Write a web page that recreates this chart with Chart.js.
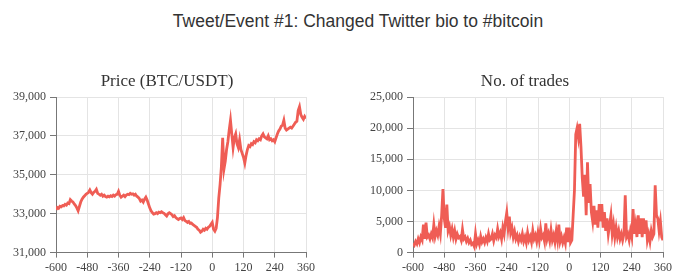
<!DOCTYPE html>
<html>
<head>
<meta charset="utf-8">
<script src="https://cdn.jsdelivr.net/npm/chart.js@4.4.1/dist/chart.umd.min.js"></script>
<style>
  body { margin: 0; background: #fff; }
  #page { position: relative; width: 687px; height: 280px; overflow: hidden; }
  #title { position: absolute; left: 0; top: 11px; width: 716px; text-align: center;
    font-family: "Liberation Sans", Arial, sans-serif; font-size: 17.5px; color: #333; }
  .box { position: absolute; top: 60px; width: 340px; height: 220px; }
  .sub { position: absolute; top: 71px; width: 200px; text-align: center;
    font-family: "Liberation Serif", "Times New Roman", serif; font-size: 17px; color: #333; }
</style>
</head>
<body>
<div id="page">
  <div id="title">Tweet/Event #1: Changed Twitter bio to #bitcoin</div>
  <div class="box" style="left:0px"><canvas id="priceChart" width="340" height="220"></canvas></div>
  <div class="box" style="left:357px"><canvas id="tradesChart" width="340" height="220"></canvas></div>
  <div class="sub" style="left:67px">Price (BTC/USDT)</div>
  <div class="sub" style="left:425px">No. of trades</div>
</div>
<script>
// minutes relative to the tweet, 5 minute steps
const startMin = -600
const stepMin = 5

const price = [
  33200, 33320, 33280, 33380, 33350, 33420, 33400, 33480, 33440, 33550, 33520, 33720,
  33650, 33600, 33500, 33420, 33300, 33150, 33380, 33600, 33750, 33850, 33920, 34000,
  34050, 34100, 34220, 34080, 34000, 34100, 34150, 34250, 34050, 34000, 33950, 34000,
  33900, 33950, 33880, 33850, 33900, 33870, 33920, 33880, 33950, 33900, 33980, 34000,
  34150, 33950, 33850, 33900, 33950, 33880, 33960, 34000, 33980, 34050, 34000, 34020,
  33950, 34000, 33900, 33850, 33780, 33650, 33700, 33600, 33750, 33850, 33700, 33500,
  33300, 33150, 33050, 32980, 33000, 33050, 33000, 33080, 33050, 33100, 33050, 33020,
  32950, 32880, 33000, 33050, 33000, 32950, 32850, 32900, 32800, 32750, 32700, 32750,
  32780, 32700, 32800, 32650, 32600, 32550, 32600, 32500, 32520, 32450, 32400, 32350,
  32300, 32200, 32150, 32050, 32100, 32200, 32150, 32250, 32200, 32300, 32350, 32450,
  32550, 32200, 32100, 32250, 32800, 33800, 34500, 35400, 36900, 35300, 35700, 36300,
  36700, 37300, 37800, 37100, 36400, 36900, 37100, 36600, 36400, 36800, 36300, 36100,
  35900, 35600, 36000, 36300, 36500, 36450, 36600, 36550, 36700, 36650, 36800, 36750,
  36850, 36800, 37000, 37100, 36950, 36900, 36850, 37000, 36800, 36850, 36750, 36800,
  36700, 36900, 37100, 37250, 37350, 37500, 37550, 37800, 37400, 37300, 37350, 37400,
  37450, 37400, 37500, 37600, 37700, 37750, 38300, 38500, 38100, 37950, 37850, 38000,
  37900
]

const trades = [
  1500, 1200, 1800, 1400, 2200, 1600, 2500, 2000, 4500, 2200, 4800, 2500,
  2800, 2200, 3000, 2400, 4500, 2600, 3500, 2800, 4200, 3000, 6000, 10200,
  5500, 4000, 7700, 3500, 4200, 2800, 3800, 2500, 3500, 2200, 3000, 2400,
  2600, 2000, 3700, 2200, 2500, 1800, 2300, 1600, 2000, 1300, 1500, 1000,
  3000, 1400, 2000, 1300, 2600, 1700, 2200, 1600, 2400, 1800, 3000, 2000,
  2200, 3000, 1900, 2800, 2400, 3800, 2600, 3200, 2200, 4000, 3000, 5000,
  6400, 4000, 5800, 3200, 4000, 2500, 3400, 2200, 2800, 1800, 2600, 2000,
  3000, 1800, 2500, 1600, 3200, 2000, 2600, 1700, 3500, 2200, 2800, 1800,
  3200, 2000, 3800, 2400, 2800, 1800, 4700, 2200, 3000, 1900, 3600, 2000,
  2800, 1700, 3400, 2000, 4500, 1800, 2600, 1600, 2400, 1500, 4000, 1700,
  4000, 1600, 2000, 6000, 10000, 19000, 20000, 18500, 20700, 17000, 12000, 9000,
  12500, 6000, 14500, 8000, 11000, 6500, 5000, 7500, 4500, 6800, 4000, 7800,
  5000, 7800, 4000, 6500, 3500, 5500, 3000, 4500, 6000, 3000, 4500, 2500,
  4000, 2500, 3500, 2200, 3000, 2000, 3000, 9200, 2500, 3000, 2000, 3500,
  2500, 7000, 3000, 4500, 2500, 6000, 3000, 5500, 2500, 5500, 3000, 5200,
  2000, 3000, 1800, 3500, 2500, 3000, 10800, 6000, 5500, 3500, 5000, 2500,
  2000
]

const xMin = -600, xMax = 360, xStep = 120
const priceTicks = { min: 31000, max: 39000, step: 2000 }
const tradeTicks = { min: 0, max: 25000, step: 5000 }

const lineColor = '#ef5d55'
const serif = '"Liberation Serif", "Times New Roman", serif'

function points(values) {
  return values.map((v, i) => ({ x: startMin + i * stepMin, y: v }))
}

function makeChart(id, values, yt) {
  return new Chart(document.getElementById(id), {
    type: 'line',
    data: {
      datasets: [{
        data: points(values),
        borderColor: lineColor,
        borderWidth: 2.8,
        pointRadius: 0,
        tension: 0
      }]
    },
    options: {
      responsive: false,
      animation: false,
      layout: { padding: { left: 0, right: 34, top: 37, bottom: 2 } },
      plugins: {
        legend: { display: false },
        tooltip: { enabled: false },
        title: { display: false }
      },
      scales: {
        x: {
          type: 'linear',
          min: xMin, max: xMax,
          ticks: { stepSize: xStep, color: '#444', font: { family: serif, size: 12 }, padding: 3, maxRotation: 0 },
          grid: { color: '#e4e4e4', tickColor: '#777', tickLength: 5 },
          border: { color: '#777' }
        },
        y: {
          min: yt.min, max: yt.max,
          afterFit: (scale) => { scale.width = 56 },
          ticks: { stepSize: yt.step, color: '#444', font: { family: serif, size: 12 }, padding: 4 },
          grid: { color: '#e4e4e4', tickColor: '#777', tickLength: 6 },
          border: { color: '#777' }
        }
      }
    }
  })
}

makeChart('priceChart', price, priceTicks)
makeChart('tradesChart', trades, tradeTicks)
</script>
</body>
</html>
